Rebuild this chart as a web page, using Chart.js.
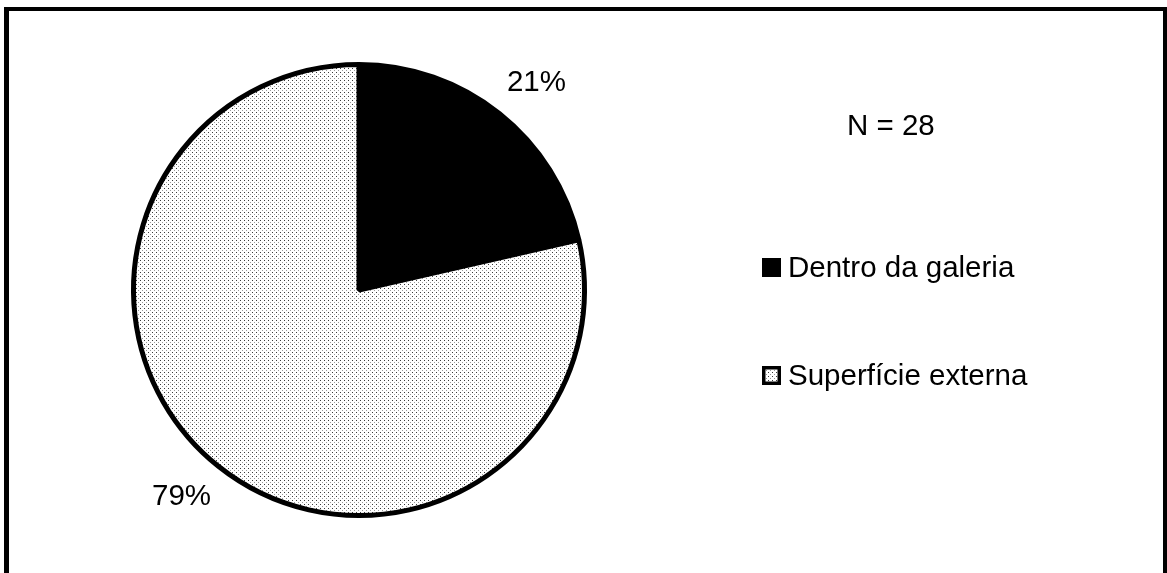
<!DOCTYPE html>
<html>
<head>
<meta charset="utf-8">
<script src="https://cdn.jsdelivr.net/npm/chart.js@4/dist/chart.umd.min.js"></script>
<style>
  html, body { margin: 0; padding: 0; background: #fff; }
  #c { display: block; }
</style>
</head>
<body>
<canvas id="c" width="1167" height="573"></canvas>
<script>
// Local de ocorrência (N = 28)
const categories = ['Dentro da galeria', 'Superfície externa'];
const counts = [6, 22];
const percentLabels = ['21%', '79%'];
const totalLabel = 'N = 28';

const FONT = '29.5px "Liberation Sans", Arial, Helvetica, sans-serif';

// Dotted fill used for the "Superfície externa" slice
function makeDotPattern() {
  const p = document.createElement('canvas');
  p.width = 4; p.height = 4;
  const g = p.getContext('2d');
  g.fillStyle = '#ffffff';
  g.fillRect(0, 0, 4, 4);
  g.fillStyle = '#3a3a3a';
  g.fillRect(0, 0, 1, 1);
  g.fillStyle = '#9a9a9a';
  g.fillRect(2, 2, 1, 1);
  return document.getElementById('c').getContext('2d').createPattern(p, 'repeat');
}
const dots = makeDotPattern();
const fills = ['#000000', dots];

// Page frame and white background
const framePlugin = {
  id: 'frame',
  beforeDraw(chart) {
    const ctx = chart.ctx;
    ctx.save();
    ctx.fillStyle = '#ffffff';
    ctx.fillRect(0, 0, chart.width, chart.height);
    ctx.fillStyle = '#000000';
    ctx.fillRect(4, 7, 5, chart.height - 7);
    ctx.fillRect(4, 7, chart.width - 4, 4);
    ctx.fillRect(chart.width - 4, 7, 4, chart.height - 7);
    ctx.restore();
  }
};

// Percent labels outside the slices, N and the legend on the right
const annotPlugin = {
  id: 'annot',
  afterDraw(chart) {
    const ctx = chart.ctx;
    const arcs = chart.getDatasetMeta(0).data;
    ctx.save();
    ctx.font = FONT;
    ctx.fillStyle = '#000';
    ctx.textAlign = 'center';
    ctx.textBaseline = 'middle';
    arcs.forEach((arc, i) => {
      const mid = (arc.startAngle + arc.endAngle) / 2 + 0.035;
      const r = arc.outerRadius * 1.21;
      ctx.fillText(percentLabels[i], arc.x + Math.cos(mid) * r, arc.y + Math.sin(mid) * r);
    });

    ctx.textAlign = 'left';
    ctx.textBaseline = 'alphabetic';
    ctx.fillText(totalLabel, 847, 135);

    const rows = [277, 385];
    categories.forEach((name, i) => {
      const y = rows[i];
      const box = 19;
      if (i === 0) {
        ctx.fillStyle = '#000';
        ctx.fillRect(762, y - box, box, box);
      } else {
        ctx.fillStyle = dots;
        ctx.fillRect(762, y - box, box, box);
        ctx.strokeStyle = '#000';
        ctx.lineWidth = 3.5;
        ctx.strokeRect(763.75, y - box + 1.75, box - 3.5, box - 3.5);
      }
      ctx.fillStyle = '#000';
      ctx.fillText(name, 788, y);
    });
    ctx.restore();
  }
};

new Chart(document.getElementById('c'), {
  type: 'pie',
  data: {
    labels: categories,
    datasets: [{
      data: counts,
      backgroundColor: fills,
      borderColor: '#000000',
      borderWidth: 5,
      borderAlign: 'center'
    }]
  },
  options: {
    responsive: false,
    devicePixelRatio: 1,
    animation: false,
    events: [],
    layout: { padding: { left: 131, top: 62, right: 580, bottom: 55 } },
    plugins: {
      legend: { display: false },
      tooltip: { enabled: false }
    }
  },
  plugins: [framePlugin, annotPlugin]
});
</script>
</body>
</html>
